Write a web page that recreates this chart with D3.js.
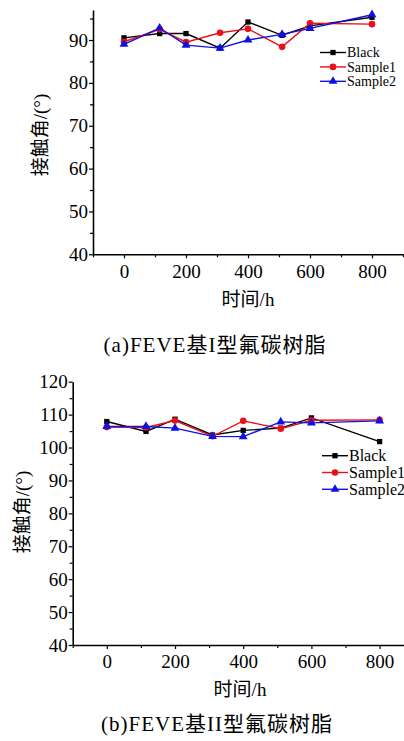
<!DOCTYPE html>
<html>
<head>
<meta charset="utf-8">
<script src="https://cdn.jsdelivr.net/npm/d3@7"></script>
<style>
  body { margin: 0; background: #fff; }
  svg { display: block; }
  text { font-family: "Liberation Serif", "Noto Sans CJK SC", serif; fill: #000; }
</style>
</head>
<body>
<div class="chart"></div>
<script>
var svgWidth = 404;
var svgHeight = 741;

// time points (h)
var hoursA = [0, 115, 200, 310, 400, 510, 600, 800];
var hoursB = [0, 115, 200, 310, 400, 510, 600, 800];

// (a) FEVE type I
var blackA   = [90.5, 91.5, 91.5, 88.1, 94.2, 91.1, 93.3, 95.3];
var sample1A = [89.6, 92.5, 89.5, 91.7, 92.6, 88.4, 93.9, 93.7];
var sample2A = [89.0, 92.8, 88.8, 88.1, 90.0, 91.3, 92.7, 95.9];

// (b) FEVE type II
var blackB   = [107.9, 104.9, 108.6, 103.8, 105.2, 105.9, 109.0, 101.8];
var sample1B = [106.2, 106.1, 108.2, 103.4, 108.1, 105.7, 108.3, 108.4];
var sample2B = [106.4, 106.4, 105.9, 103.4, 103.3, 107.8, 107.5, 108.1];

var seriesNames = ["Black", "Sample1", "Sample2"];
var seriesColors = ["#000000", "#e8101a", "#1010e0"];
var seriesShapes = [d3.symbolSquare, d3.symbolCircle, d3.symbolTriangle];
var seriesSizes = [28, 34, 34];

var yLabel = "接触角/(°)";
var xLabel = "时间/h";
var captionA = "(a)FEVE基I型氟碳树脂";
var captionB = "(b)FEVE基II型氟碳树脂";

var svg = d3.select(".chart")
    .append("svg")
    .attr("width", svgWidth)
    .attr("height", svgHeight);

function drawPanel(cfg) {
    var g = svg.append("g");

    var x = d3.scaleLinear().domain(cfg.xDomain).range(cfg.xRange);
    var y = d3.scaleLinear().domain(cfg.yDomain).range(cfg.yRange);

    // minor ticks
    g.append("g")
        .attr("transform", `translate(0, ${cfg.yRange[0]})`)
        .call(d3.axisBottom(x).tickValues(d3.range(-100, 901, 200)).tickSize(3).tickFormat(""))
        .call(a => a.select(".domain").remove());
    g.append("g")
        .attr("transform", `translate(${cfg.xRange[0]}, 0)`)
        .call(d3.axisLeft(y).tickValues(d3.range(45, cfg.yDomain[1], 10)).tickSize(3).tickFormat(""))
        .call(a => a.select(".domain").remove());

    g.append("g")
        .attr("transform", `translate(0, ${cfg.yRange[0]})`)
        .call(d3.axisBottom(x).tickValues([0, 200, 400, 600, 800]).tickSize(4).tickPadding(6).tickSizeOuter(0));
    g.append("g")
        .attr("transform", `translate(${cfg.xRange[0]}, 0)`)
        .call(d3.axisLeft(y).tickValues(d3.range(40, cfg.yDomain[1] + 0.1, 10)).tickSize(4).tickPadding(1).tickSizeOuter(0));

    g.selectAll(".domain").attr("stroke-width", 1.6);
    g.selectAll(".tick line").attr("stroke-width", 1.2);
    g.selectAll(".tick text")
        .style("font-family", "'Liberation Serif', serif")
        .style("font-size", "19px");

    cfg.series.forEach(function(vals, i) {
        var pts = cfg.hours.map((h, j) => [h, vals[j]]);
        g.append("path")
            .datum(pts)
            .attr("fill", "none")
            .attr("stroke", seriesColors[i])
            .attr("stroke-width", 1.4)
            .attr("d", d3.line().x(d => x(d[0])).y(d => y(d[1])));
        g.selectAll(".m" + i)
            .data(pts)
            .enter()
            .append("path")
            .attr("transform", d => `translate(${x(d[0])}, ${y(d[1])})`)
            .attr("d", d3.symbol().type(seriesShapes[i]).size(seriesSizes[i]))
            .attr("fill", seriesColors[i]);
    });

    // legend
    var leg = g.append("g").attr("transform", `translate(${cfg.legend[0]}, ${cfg.legend[1]})`);
    seriesNames.forEach(function(name, i) {
        var row = leg.append("g").attr("transform", `translate(0, ${i * cfg.legendStep})`);
        row.append("line")
            .attr("x1", 0).attr("x2", 26)
            .attr("stroke", seriesColors[i])
            .attr("stroke-width", 1.4);
        row.append("path")
            .attr("transform", "translate(13, 0)")
            .attr("d", d3.symbol().type(seriesShapes[i]).size(seriesSizes[i]))
            .attr("fill", seriesColors[i]);
        row.append("text")
            .attr("x", 27)
            .attr("dy", "0.35em")
            .style("font-size", cfg.legendFont)
            .text(name);
    });

    g.append("text")
        .attr("transform", `translate(${cfg.yLabelPos[0]}, ${cfg.yLabelPos[1]}) rotate(-90)`)
        .attr("text-anchor", "middle")
        .attr("dominant-baseline", "central")
        .style("font-size", "19px")
        .text(yLabel);

    g.append("text")
        .attr("x", cfg.xLabelPos[0])
        .attr("y", cfg.xLabelPos[1])
        .attr("text-anchor", "middle")
        .style("font-size", "19px")
        .text(xLabel);

    g.append("text")
        .attr("x", cfg.captionPos[0])
        .attr("y", cfg.captionPos[1])
        .attr("text-anchor", "middle")
        .style("font-size", "21px")
        .style("letter-spacing", "1px")
        .text(cfg.caption);
}

drawPanel({
    hours: hoursA,
    series: [blackA, sample1A, sample2A],
    xDomain: [-100, 900], xRange: [93, 403],
    yDomain: [40, 97], yRange: [254.3, 10],
    legend: [320, 52.5], legendStep: 14.4, legendFont: "14px",
    yLabelPos: [40, 135],
    xLabelPos: [248, 306],
    captionPos: [215, 352],
    caption: captionA
});

drawPanel({
    hours: hoursB,
    series: [blackB, sample1B, sample2B],
    xDomain: [-100, 900], xRange: [72.7, 413.7],
    yDomain: [40, 120], yRange: [645, 381.7],
    legend: [322, 455.7], legendStep: 16.8, legendFont: "16px",
    yLabelPos: [22, 512],
    xLabelPos: [240, 696],
    captionPos: [217, 731],
    caption: captionB
});
</script>
</body>
</html>
